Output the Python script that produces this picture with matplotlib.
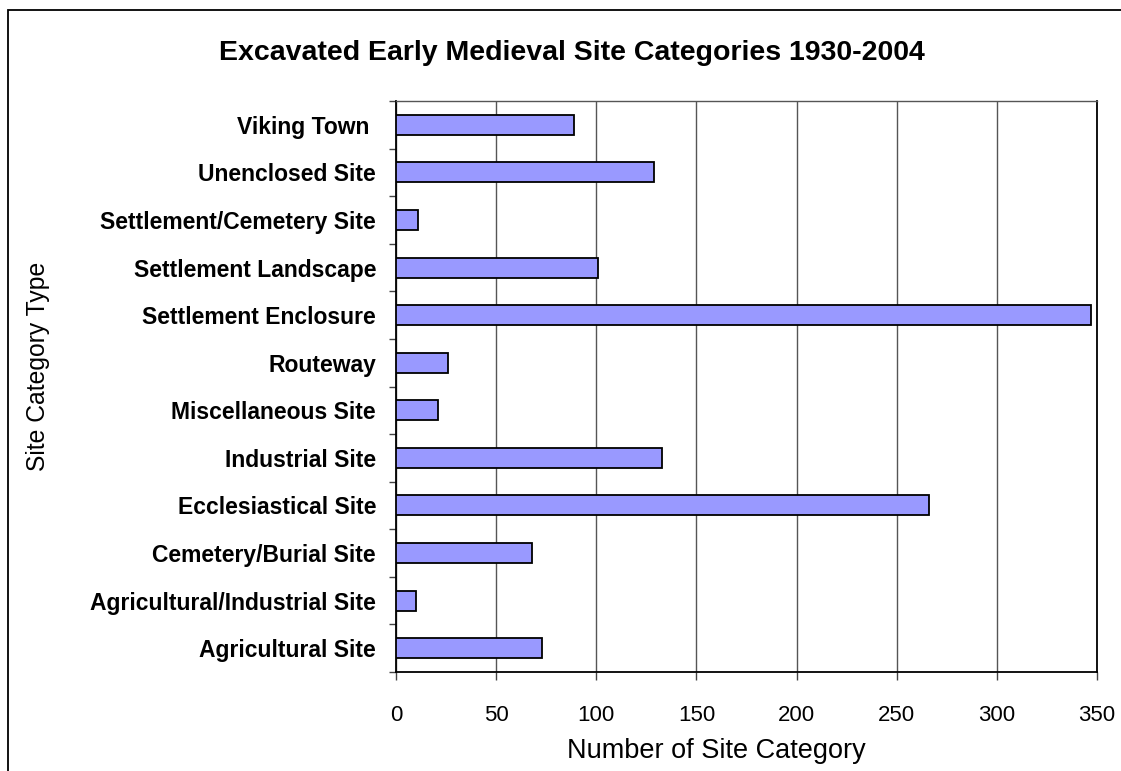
import numpy as np
import matplotlib.pyplot as plt
from matplotlib.patches import Rectangle

# categories bottom -> top
categories = ["Agricultural Site", "Agricultural/Industrial Site", "Cemetery/Burial Site",
              "Ecclesiastical Site", "Industrial Site", "Miscellaneous Site", "Routeway",
              "Settlement Enclosure", "Settlement Landscape", "Settlement/Cemetery Site",
              "Unenclosed Site", "Viking Town "]
counts = [73, 10, 68, 266, 133, 21, 26, 347, 101, 11, 129, 89]
xticks = [0, 50, 100, 150, 200, 250, 300, 350]

plt.rcParams['font.family'] = ['Liberation Sans', 'DejaVu Sans']

W, H = 1121, 771
fig = plt.figure(figsize=(W / 100, H / 100), dpi=100)
ax = fig.add_axes([396 / W, 1 - 672 / H, (1097 - 396) / W, (672 - 101) / H])

y = np.arange(len(categories))
ax.barh(y, counts, height=0.42, color='#9999FF', edgecolor='black', linewidth=1.3, zorder=3)

ax.set_xlim(0, 350)
ax.set_ylim(-0.5, len(categories) - 0.5)
ax.set_xticks(xticks)
ax.set_xticklabels([str(t) for t in xticks], fontsize=16)
ax.set_yticks(y)
ax.set_yticklabels(categories, fontsize=16.5, fontweight='bold')
ax.set_yticks(np.arange(-0.5, len(categories)), minor=True)
ax.tick_params(axis='y', which='major', length=0, pad=14.4)
ax.tick_params(axis='y', which='minor', length=5, color='#444444', width=1)
ax.tick_params(axis='x', length=6, color='#444444', width=1, pad=18)
ax.grid(axis='x', color='#555555', linewidth=1, zorder=0)

for side in ['left', 'bottom', 'right']:
    ax.spines[side].set_color('black')
    ax.spines[side].set_linewidth(1.3)
ax.spines['top'].set_color('#555555')
ax.spines['top'].set_linewidth(1)

fig.text(716 / W, 1 - 751 / H, "Number of Site Category", fontsize=19.5,
         ha='center', va='center')
fig.text(38 / W, 1 - 366 / H, "Site Category Type", rotation=90, fontsize=17.8,
         ha='center', va='center')
fig.text(572 / W, 1 - 53 / H, "Excavated Early Medieval Site Categories 1930-2004",
         fontsize=20.5, fontweight='bold', ha='center', va='center')

# outer chart border
fig.patches.append(Rectangle((8 / W, -0.1), 1.2, 1.1 - 10.5 / H, transform=fig.transFigure,
                             fill=False, edgecolor='black', linewidth=1.3))

fig.savefig("out.png", dpi=100)
